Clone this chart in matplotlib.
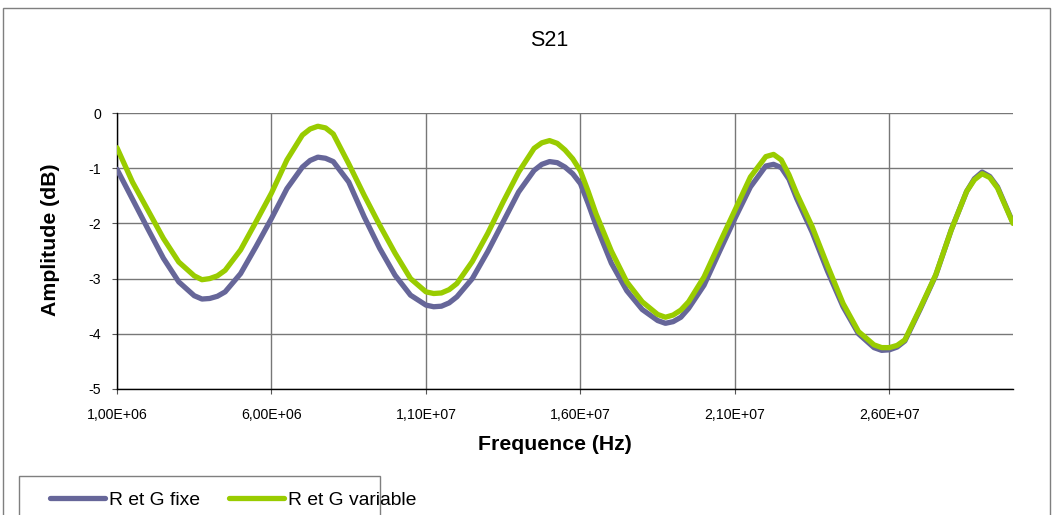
import matplotlib
matplotlib.use("Agg")
import matplotlib.pyplot as plt
from matplotlib.ticker import FuncFormatter, MultipleLocator
from matplotlib.patches import Rectangle

plt.rcParams['font.family'] = ['Liberation Sans', 'DejaVu Sans']
plt.rcParams['axes.unicode_minus'] = False

# frequencies in MHz, converted to Hz below (finer steps around the peaks)
freq_mhz = [1, 1.5, 2, 2.5, 3, 3.5, 3.75, 4, 4.25, 4.5, 5, 5.5, 6, 6.5, 7, 7.25,
            7.5, 7.75, 8, 8.5, 9, 9.5, 10, 10.5, 11, 11.25, 11.5, 11.75, 12, 12.5,
            13, 13.5, 14, 14.5, 14.75, 15, 15.25, 15.5, 15.75, 16, 16.25, 16.5, 17,
            17.5, 18, 18.5, 18.75, 19, 19.25, 19.5, 20, 20.5, 21, 21.5, 22, 22.25,
            22.5, 22.75, 23, 23.5, 24, 24.5, 25, 25.5, 25.75, 26, 26.25, 26.5, 27,
            27.5, 28, 28.5, 28.75, 29, 29.25, 29.5, 30]

# S21 amplitude (dB), R and G fixed
s21_fixe = [-1.02, -1.56, -2.10, -2.63, -3.06, -3.31, -3.37, -3.36, -3.32, -3.24,
            -2.91, -2.42, -1.91, -1.37, -0.98, -0.86, -0.80, -0.82, -0.88, -1.25,
            -1.88, -2.45, -2.94, -3.30, -3.48, -3.51, -3.50, -3.44, -3.33, -3.00,
            -2.51, -1.97, -1.43, -1.04, -0.93, -0.88, -0.90, -0.98, -1.10, -1.28,
            -1.64, -2.03, -2.72, -3.22, -3.56, -3.76, -3.81, -3.78, -3.70, -3.54,
            -3.12, -2.51, -1.91, -1.34, -0.96, -0.93, -0.99, -1.20, -1.55, -2.16,
            -2.87, -3.51, -4.00, -4.25, -4.30, -4.29, -4.24, -4.13, -3.55, -2.94,
            -2.12, -1.42, -1.19, -1.07, -1.15, -1.34, -1.99]

# S21 amplitude (dB), R and G frequency dependent
s21_variable = [-0.63, -1.25, -1.76, -2.27, -2.70, -2.95, -3.02, -3.00, -2.95, -2.85,
                -2.48, -1.97, -1.45, -0.85, -0.40, -0.29, -0.24, -0.27, -0.38, -0.92,
                -1.49, -2.03, -2.54, -3.00, -3.24, -3.27, -3.26, -3.20, -3.09, -2.69,
                -2.18, -1.61, -1.07, -0.64, -0.54, -0.50, -0.55, -0.67, -0.83, -1.05,
                -1.42, -1.82, -2.50, -3.06, -3.42, -3.65, -3.70, -3.66, -3.57, -3.42,
                -2.97, -2.36, -1.76, -1.16, -0.79, -0.75, -0.85, -1.12, -1.46, -2.06,
                -2.77, -3.45, -3.96, -4.20, -4.25, -4.25, -4.21, -4.11, -3.53, -2.93,
                -2.12, -1.42, -1.21, -1.10, -1.17, -1.36, -2.00]

freq = [f * 1e6 for f in freq_mhz]

W, H = 1056, 515
fig = plt.figure(figsize=(W / 100, H / 100), dpi=100)

# outer chart border
fig.patches.append(Rectangle((3 / W, -0.05), 1047 / W, 1 - 8 / H + 0.05,
                             transform=fig.transFigure, fill=False,
                             edgecolor='#7f7f7f', lw=1.0))

ax = fig.add_axes([117 / W, 1 - 389 / H, (1013 - 117) / W, (389 - 113) / H])

ax.plot(freq, s21_fixe, color='#666699', lw=3.8, label='R et G fixe',
        solid_capstyle='round', solid_joinstyle='round', zorder=3)
ax.plot(freq, s21_variable, color='#99CC00', lw=3.8, label='R et G variable',
        solid_capstyle='round', solid_joinstyle='round', zorder=4)

ax.set_xlim(1e6, 3e7)
ax.set_ylim(-5, 0)
ax.set_xticks([1e6, 6e6, 1.1e7, 1.6e7, 2.1e7, 2.6e7])
ax.yaxis.set_major_locator(MultipleLocator(1))
ax.xaxis.set_major_formatter(FuncFormatter(lambda v, p: f"{v:.2E}".replace('.', ',')))
ax.yaxis.set_major_formatter(FuncFormatter(lambda v, p: f"{v:.0f}"))

ax.grid(True, color='#777777', lw=1.0)
ax.set_axisbelow(True)
for s in ['top', 'right']:
    ax.spines[s].set_visible(False)
for s in ['left', 'bottom']:
    ax.spines[s].set_color('black')
    ax.spines[s].set_linewidth(1.0)
    ax.spines[s].set_zorder(2)

ax.tick_params(axis='y', direction='out', length=3.6, width=0.8, color='#555555',
               pad=8, labelsize=10.2)
ax.tick_params(axis='x', direction='out', length=3.6, width=0.8, color='#555555',
               pad=10, labelsize=10.2)

fig.text(549 / W, 1 - 40 / H, 'S21', ha='center', va='center', fontsize=15.5)
fig.text(51 / W, 1 - 240 / H, 'Amplitude (dB)', ha='center', va='center',
         rotation=90, fontsize=15.3, fontweight='bold')
fig.text(555 / W, 1 - 444 / H, 'Frequence (Hz)', ha='center', va='center',
         fontsize=15.3, fontweight='bold')

# legend frame runs off the bottom edge
fig.patches.append(Rectangle((19 / W, -0.05), (380 - 19) / W, 1 - 476 / H + 0.05,
                             transform=fig.transFigure, fill=False,
                             edgecolor='#7f7f7f', lw=1.0))
fig.legend(loc='center left', bbox_to_anchor=(50 / W, 1 - 500 / H), ncol=2,
           frameon=False, fontsize=13.9, handlelength=2.85, handletextpad=0.2,
           columnspacing=1.5, borderpad=0, borderaxespad=0)

fig.savefig('out.png', dpi=100)
